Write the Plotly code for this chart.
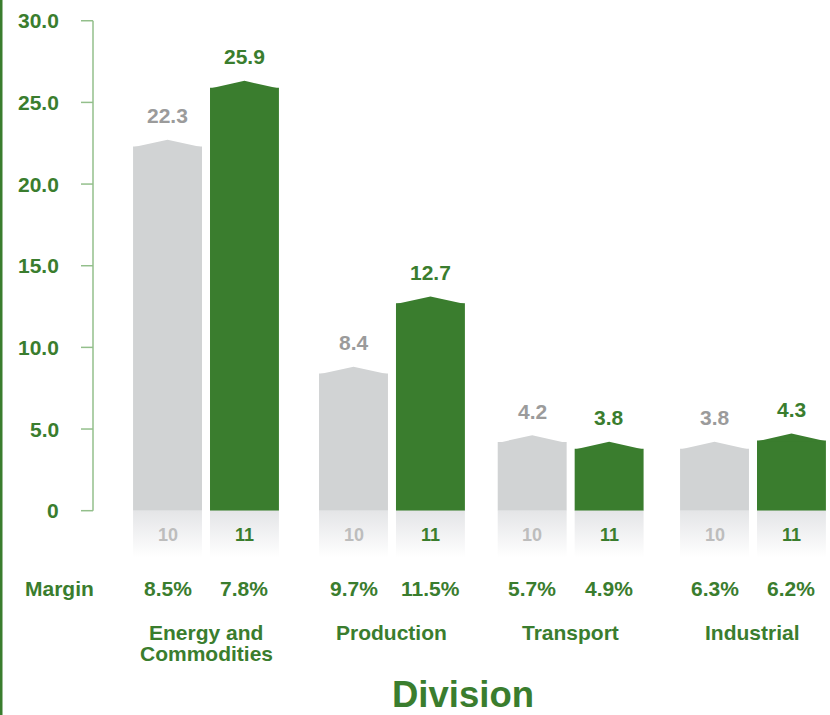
import plotly.graph_objects as go

# ---- data ----
divisions = ["Energy and<br>Commodities", "Production", "Transport", "Industrial"]
year_labels = ["10", "11"]
sales_10 = [22.3, 8.4, 4.2, 3.8]
sales_11 = [25.9, 12.7, 3.8, 4.3]
margin_10 = ["8.5%", "9.7%", "5.7%", "6.3%"]
margin_11 = ["7.8%", "11.5%", "4.9%", "6.2%"]
y_ticks = [0, 5, 10, 15, 20, 25, 30]
y_tick_labels = ["0", "5.0", "10.0", "15.0", "20.0", "25.0", "30.0"]
row_label = "Margin"
axis_title = "Division"

# ---- layout / style ----
W, H = 830, 715
GREEN = "#3a7d2e"
GRAY_BAR = "#d1d3d4"
GRAY_TXT = "#9b9b9b"
GRAY_YEAR = "#bdbdbd"
AXIS_COL = "#93bf8b"
FONT = "Liberation Sans, Arial, Helvetica, sans-serif"
FS = 21
group_pos = [0, 1.02, 2, 3]
BAR_W = 0.378
OFF = 0.211
PEAK = 0.42
REFL = 2.85
X0 = -1.1298

def px(x):
    return x / W

def py(y):
    return 1 - y / H

fig = go.Figure()

series = [
    (sales_10, -OFF, GRAY_BAR, GRAY_TXT, year_labels[0], GRAY_YEAR, margin_10),
    (sales_11, OFF, GREEN, GREEN, year_labels[1], GREEN, margin_11),
]

# reflections under bars
rx, ry = [], []
for vals, off, *_ in series:
    for g, _v in zip(group_pos, vals):
        x0, x1 = g + off - BAR_W / 2, g + off + BAR_W / 2
        rx += [x0, x1, x1, x0, x0, None]
        ry += [0, 0, -REFL, -REFL, 0, None]
fig.add_trace(go.Scatter(
    x=rx, y=ry, mode="lines", fill="toself", line=dict(width=0),
    fillgradient=dict(type="vertical",
                      colorscale=[[0, "rgba(255,255,255,1)"], [1, "#e4e5e7"]]),
    hoverinfo="skip"))

annotations = []
for vals, off, col, tcol, ylab, ycol, margins in series:
    xs = [g + off for g in group_pos]
    fig.add_trace(go.Bar(x=xs, y=vals, width=BAR_W, marker=dict(color=col, line=dict(width=0)),
                         hoverinfo="skip"))
    tx, ty = [], []
    for x, v in zip(xs, vals):
        tx += [x - BAR_W / 2, x, x + BAR_W / 2, x - BAR_W / 2, None]
        ty += [v - 0.05, v + PEAK, v - 0.05, v - 0.05, None]
    fig.add_trace(go.Scatter(x=tx, y=ty, mode="lines", fill="toself", fillcolor=col,
                             line=dict(width=0), hoverinfo="skip"))
    for x, v, m in zip(xs, vals, margins):
        annotations.append(dict(x=x, y=v, xref="x", yref="y", yshift=31, text=f"{v:.1f}",
                                showarrow=False, yanchor="middle",
                                font=dict(family=FONT, size=FS, color=tcol, weight="bold")))
        annotations.append(dict(x=x, y=0, xref="x", yref="y", yshift=-24, text=ylab,
                                showarrow=False, yanchor="middle",
                                font=dict(family=FONT, size=18, color=ycol, weight="bold")))
        annotations.append(dict(x=x, y=py(588), xref="x", yref="paper", text=m,
                                showarrow=False, yanchor="middle",
                                font=dict(family=FONT, size=FS, color=GREEN, weight="bold")))

# category names
for g, name in zip(group_pos, divisions):
    for j, line in enumerate(name.split("<br>")):
        annotations.append(dict(x=g, y=py(632 + 21 * j), xref="x", yref="paper", text=line,
                                showarrow=False, yanchor="middle",
                                font=dict(family=FONT, size=FS, color=GREEN, weight="bold")))

annotations.append(dict(x=px(59), y=py(588), xref="paper", yref="paper", text=row_label,
                        showarrow=False, yanchor="middle", xanchor="center",
                        font=dict(family=FONT, size=FS, color=GREEN, weight="bold")))
annotations.append(dict(x=px(463), y=py(694), xref="paper", yref="paper", text=axis_title,
                        showarrow=False, yanchor="middle", xanchor="center",
                        font=dict(family=FONT, size=36.5, color=GREEN, weight="bold")))

shapes = [
    dict(type="rect", xref="paper", yref="paper", x0=0, x1=px(2.5), y0=0, y1=1,
         fillcolor=GREEN, line=dict(width=0)),
    dict(type="line", xref="paper", yref="y", x0=px(93), x1=px(93), y0=min(y_ticks), y1=max(y_ticks),
         line=dict(color=AXIS_COL, width=1.5)),
]
for t, lab in zip(y_ticks, y_tick_labels):
    shapes.append(dict(type="line", xref="paper", yref="y", x0=px(81), x1=px(93), y0=t, y1=t,
                       line=dict(color=AXIS_COL, width=1.5)))
    annotations.append(dict(x=px(61), y=t, xref="paper", yref="y", text=lab, showarrow=False,
                            xanchor="right", yanchor="middle",
                            font=dict(family=FONT, size=FS, color=GREEN, weight="bold")))

fig.update_layout(
    width=W, height=H, margin=dict(l=0, r=0, t=0, b=0),
    paper_bgcolor="white", plot_bgcolor="white",
    showlegend=False, barmode="overlay",
    xaxis=dict(range=[X0, X0 + W / 182.33], visible=False, fixedrange=True),
    yaxis=dict(range=[-12.51, 31.27], visible=False, fixedrange=True),
    annotations=annotations, shapes=shapes,
)
fig.write_html("out.html")
